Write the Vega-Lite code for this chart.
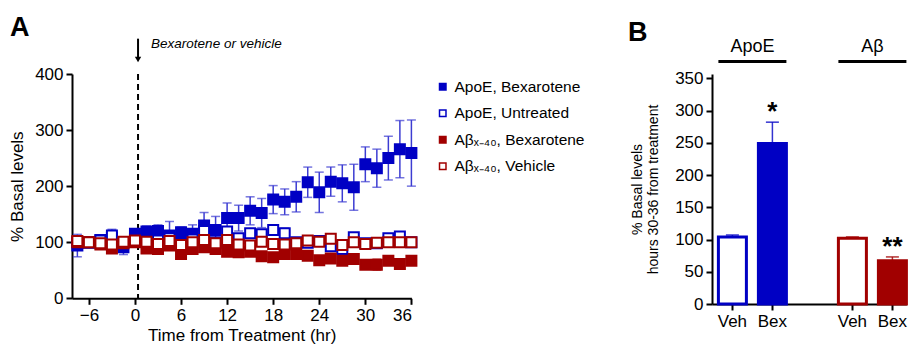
{
  "$schema": "https://vega.github.io/schema/vega-lite/v6.json",
  "background": "white",
  "padding": {"left": 8, "top": 13, "right": 0, "bottom": 0},
  "config": {
    "font": "Liberation Sans",
    "view": {"stroke": null},
    "axis": {"domainColor": "black", "domainWidth": 2, "tickColor": "black", "tickWidth": 2, "tickSize": 6, "labelColor": "black", "labelFontSize": 17, "titleColor": "black", "titleFontWeight": "normal", "grid": false, "labelPadding": 3},
    "title": {"fontSize": 27, "fontWeight": "bold", "color": "black", "anchor": "start", "frame": "group"}
  },
  "resolve": {"scale": {"color": "independent", "fill": "independent", "stroke": "independent"}, "legend": {"color": "independent", "fill": "independent", "stroke": "independent"}},
  "datasets": {
    "ts": [
      {"h": -7.5, "s": "ApoE, Bexarotene", "m": 94, "e": 20}, {"h": -6, "s": "ApoE, Bexarotene", "m": 99, "e": 6}, {"h": -4.5, "s": "ApoE, Bexarotene", "m": 104, "e": 6}, {"h": -3, "s": "ApoE, Bexarotene", "m": 108, "e": 8}, {"h": -1.5, "s": "ApoE, Bexarotene", "m": 91, "e": 13}, {"h": 0, "s": "ApoE, Bexarotene", "m": 115, "e": 8}, {"h": 1.5, "s": "ApoE, Bexarotene", "m": 119, "e": 10}, {"h": 3, "s": "ApoE, Bexarotene", "m": 120, "e": 11}, {"h": 4.5, "s": "ApoE, Bexarotene", "m": 112, "e": 25}, {"h": 6, "s": "ApoE, Bexarotene", "m": 118, "e": 9}, {"h": 7.5, "s": "ApoE, Bexarotene", "m": 115, "e": 16}, {"h": 9, "s": "ApoE, Bexarotene", "m": 130, "e": 23}, {"h": 10.5, "s": "ApoE, Bexarotene", "m": 122, "e": 24}, {"h": 12, "s": "ApoE, Bexarotene", "m": 143, "e": 27}, {"h": 13.5, "s": "ApoE, Bexarotene", "m": 143, "e": 23}, {"h": 15, "s": "ApoE, Bexarotene", "m": 156, "e": 25}, {"h": 16.5, "s": "ApoE, Bexarotene", "m": 152, "e": 26}, {"h": 18, "s": "ApoE, Bexarotene", "m": 176, "e": 25}, {"h": 19.5, "s": "ApoE, Bexarotene", "m": 172, "e": 23}, {"h": 21, "s": "ApoE, Bexarotene", "m": 181, "e": 27}, {"h": 22.5, "s": "ApoE, Bexarotene", "m": 207, "e": 27}, {"h": 24, "s": "ApoE, Bexarotene", "m": 189, "e": 36}, {"h": 25.5, "s": "ApoE, Bexarotene", "m": 208, "e": 26}, {"h": 27, "s": "ApoE, Bexarotene", "m": 205, "e": 33}, {"h": 28.5, "s": "ApoE, Bexarotene", "m": 198, "e": 41}, {"h": 30, "s": "ApoE, Bexarotene", "m": 239, "e": 31}, {"h": 31.5, "s": "ApoE, Bexarotene", "m": 232, "e": 34}, {"h": 33, "s": "ApoE, Bexarotene", "m": 250, "e": 39}, {"h": 34.5, "s": "ApoE, Bexarotene", "m": 266, "e": 51}, {"h": 36, "s": "ApoE, Bexarotene", "m": 259, "e": 59},
      {"h": -7.5, "s": "ApoE, Untreated", "m": 100, "e": 5}, {"h": -6, "s": "ApoE, Untreated", "m": 100, "e": 4}, {"h": -4.5, "s": "ApoE, Untreated", "m": 103, "e": 5}, {"h": -3, "s": "ApoE, Untreated", "m": 112, "e": 11}, {"h": -1.5, "s": "ApoE, Untreated", "m": 100, "e": 5}, {"h": 0, "s": "ApoE, Untreated", "m": 105, "e": 5}, {"h": 1.5, "s": "ApoE, Untreated", "m": 101, "e": 6}, {"h": 3, "s": "ApoE, Untreated", "m": 103, "e": 6}, {"h": 4.5, "s": "ApoE, Untreated", "m": 107, "e": 7}, {"h": 6, "s": "ApoE, Untreated", "m": 98, "e": 6}, {"h": 7.5, "s": "ApoE, Untreated", "m": 105, "e": 6}, {"h": 9, "s": "ApoE, Untreated", "m": 120, "e": 8}, {"h": 10.5, "s": "ApoE, Untreated", "m": 100, "e": 6}, {"h": 12, "s": "ApoE, Untreated", "m": 119, "e": 7}, {"h": 13.5, "s": "ApoE, Untreated", "m": 107, "e": 6}, {"h": 15, "s": "ApoE, Untreated", "m": 116, "e": 7}, {"h": 16.5, "s": "ApoE, Untreated", "m": 114, "e": 8}, {"h": 18, "s": "ApoE, Untreated", "m": 122, "e": 8}, {"h": 19.5, "s": "ApoE, Untreated", "m": 116, "e": 9}, {"h": 21, "s": "ApoE, Untreated", "m": 100, "e": 6}, {"h": 22.5, "s": "ApoE, Untreated", "m": 99, "e": 5}, {"h": 24, "s": "ApoE, Untreated", "m": 102, "e": 5}, {"h": 25.5, "s": "ApoE, Untreated", "m": 93, "e": 6}, {"h": 27, "s": "ApoE, Untreated", "m": 88, "e": 8}, {"h": 28.5, "s": "ApoE, Untreated", "m": 109, "e": 6}, {"h": 30, "s": "ApoE, Untreated", "m": 98, "e": 5}, {"h": 31.5, "s": "ApoE, Untreated", "m": 98, "e": 5}, {"h": 33, "s": "ApoE, Untreated", "m": 107, "e": 5}, {"h": 34.5, "s": "ApoE, Untreated", "m": 110, "e": 5}, {"h": 36, "s": "ApoE, Untreated", "m": 100, "e": 4},
      {"h": -7.5, "s": "Aβₓ₋₄₀, Bexarotene", "m": 100, "e": 6}, {"h": -6, "s": "Aβₓ₋₄₀, Bexarotene", "m": 100, "e": 4}, {"h": -4.5, "s": "Aβₓ₋₄₀, Bexarotene", "m": 96, "e": 5}, {"h": -3, "s": "Aβₓ₋₄₀, Bexarotene", "m": 89, "e": 5}, {"h": -1.5, "s": "Aβₓ₋₄₀, Bexarotene", "m": 98, "e": 5}, {"h": 0, "s": "Aβₓ₋₄₀, Bexarotene", "m": 100, "e": 5}, {"h": 1.5, "s": "Aβₓ₋₄₀, Bexarotene", "m": 89, "e": 5}, {"h": 3, "s": "Aβₓ₋₄₀, Bexarotene", "m": 88, "e": 5}, {"h": 4.5, "s": "Aβₓ₋₄₀, Bexarotene", "m": 94, "e": 5}, {"h": 6, "s": "Aβₓ₋₄₀, Bexarotene", "m": 79, "e": 5}, {"h": 7.5, "s": "Aβₓ₋₄₀, Bexarotene", "m": 88, "e": 5}, {"h": 9, "s": "Aβₓ₋₄₀, Bexarotene", "m": 91, "e": 5}, {"h": 10.5, "s": "Aβₓ₋₄₀, Bexarotene", "m": 88, "e": 5}, {"h": 12, "s": "Aβₓ₋₄₀, Bexarotene", "m": 83, "e": 5}, {"h": 13.5, "s": "Aβₓ₋₄₀, Bexarotene", "m": 82, "e": 5}, {"h": 15, "s": "Aβₓ₋₄₀, Bexarotene", "m": 83, "e": 5}, {"h": 16.5, "s": "Aβₓ₋₄₀, Bexarotene", "m": 75, "e": 5}, {"h": 18, "s": "Aβₓ₋₄₀, Bexarotene", "m": 73, "e": 5}, {"h": 19.5, "s": "Aβₓ₋₄₀, Bexarotene", "m": 79, "e": 5}, {"h": 21, "s": "Aβₓ₋₄₀, Bexarotene", "m": 79, "e": 5}, {"h": 22.5, "s": "Aβₓ₋₄₀, Bexarotene", "m": 76, "e": 5}, {"h": 24, "s": "Aβₓ₋₄₀, Bexarotene", "m": 68, "e": 5}, {"h": 25.5, "s": "Aβₓ₋₄₀, Bexarotene", "m": 71, "e": 5}, {"h": 27, "s": "Aβₓ₋₄₀, Bexarotene", "m": 67, "e": 6}, {"h": 28.5, "s": "Aβₓ₋₄₀, Bexarotene", "m": 70, "e": 5}, {"h": 30, "s": "Aβₓ₋₄₀, Bexarotene", "m": 60, "e": 5}, {"h": 31.5, "s": "Aβₓ₋₄₀, Bexarotene", "m": 60, "e": 10}, {"h": 33, "s": "Aβₓ₋₄₀, Bexarotene", "m": 67, "e": 5}, {"h": 34.5, "s": "Aβₓ₋₄₀, Bexarotene", "m": 61, "e": 5}, {"h": 36, "s": "Aβₓ₋₄₀, Bexarotene", "m": 67, "e": 5},
      {"h": -7.5, "s": "Aβₓ₋₄₀, Vehicle", "m": 102, "e": 5}, {"h": -6, "s": "Aβₓ₋₄₀, Vehicle", "m": 100, "e": 4}, {"h": -4.5, "s": "Aβₓ₋₄₀, Vehicle", "m": 98, "e": 4}, {"h": -3, "s": "Aβₓ₋₄₀, Vehicle", "m": 96, "e": 5}, {"h": -1.5, "s": "Aβₓ₋₄₀, Vehicle", "m": 101, "e": 4}, {"h": 0, "s": "Aβₓ₋₄₀, Vehicle", "m": 103, "e": 5}, {"h": 1.5, "s": "Aβₓ₋₄₀, Vehicle", "m": 101, "e": 5}, {"h": 3, "s": "Aβₓ₋₄₀, Vehicle", "m": 97, "e": 5}, {"h": 4.5, "s": "Aβₓ₋₄₀, Vehicle", "m": 102, "e": 5}, {"h": 6, "s": "Aβₓ₋₄₀, Vehicle", "m": 95, "e": 5}, {"h": 7.5, "s": "Aβₓ₋₄₀, Vehicle", "m": 100, "e": 5}, {"h": 9, "s": "Aβₓ₋₄₀, Vehicle", "m": 104, "e": 5}, {"h": 10.5, "s": "Aβₓ₋₄₀, Vehicle", "m": 98, "e": 5}, {"h": 12, "s": "Aβₓ₋₄₀, Vehicle", "m": 104, "e": 5}, {"h": 13.5, "s": "Aβₓ₋₄₀, Vehicle", "m": 96, "e": 5}, {"h": 15, "s": "Aβₓ₋₄₀, Vehicle", "m": 94, "e": 5}, {"h": 16.5, "s": "Aβₓ₋₄₀, Vehicle", "m": 101, "e": 5}, {"h": 18, "s": "Aβₓ₋₄₀, Vehicle", "m": 97, "e": 5}, {"h": 19.5, "s": "Aβₓ₋₄₀, Vehicle", "m": 96, "e": 5}, {"h": 21, "s": "Aβₓ₋₄₀, Vehicle", "m": 98, "e": 5}, {"h": 22.5, "s": "Aβₓ₋₄₀, Vehicle", "m": 103, "e": 5}, {"h": 24, "s": "Aβₓ₋₄₀, Vehicle", "m": 101, "e": 5}, {"h": 25.5, "s": "Aβₓ₋₄₀, Vehicle", "m": 106, "e": 5}, {"h": 27, "s": "Aβₓ₋₄₀, Vehicle", "m": 95, "e": 5}, {"h": 28.5, "s": "Aβₓ₋₄₀, Vehicle", "m": 100, "e": 5}, {"h": 30, "s": "Aβₓ₋₄₀, Vehicle", "m": 97, "e": 5}, {"h": 31.5, "s": "Aβₓ₋₄₀, Vehicle", "m": 99, "e": 5}, {"h": 33, "s": "Aβₓ₋₄₀, Vehicle", "m": 100, "e": 5}, {"h": 34.5, "s": "Aβₓ₋₄₀, Vehicle", "m": 100, "e": 5}, {"h": 36, "s": "Aβₓ₋₄₀, Vehicle", "m": 100, "e": 5}
    ],
    "bars": [
      {"group": "ApoE", "cond": "ApoE Veh", "mean": 104, "hi": 107, "star": ""},
      {"group": "ApoE", "cond": "ApoE Bex", "mean": 249, "hi": 282, "star": "*"},
      {"group": "Aβ", "cond": "Aβ Veh", "mean": 102, "hi": 104, "star": ""},
      {"group": "Aβ", "cond": "Aβ Bex", "mean": 67, "hi": 73, "star": "**"}
    ],
    "groups": [
      {"group": "ApoE", "first": "ApoE Veh", "last": "ApoE Bex"},
      {"group": "Aβ", "first": "Aβ Veh", "last": "Aβ Bex"}
    ]
  },
  "spacing": 38,
  "hconcat": [
    {
      "width": 339.4,
      "height": 224.3,
      "title": {"text": "A", "dx": -62, "offset": -5},
      "layer": [
        {
          "data": {"values": [{}]},
          "mark": {"type": "rule", "strokeDash": [6, 4], "strokeWidth": 2, "color": "black"},
          "encoding": {
            "x": {"datum": 0.4, "type": "quantitative", "scale": {"domain": [-8.2, 36], "nice": false}, "axis": {"values": [-6, 0, 6, 12, 18, 24, 30, 36], "title": "Time from Treatment (hr)", "titleFontSize": 17, "titlePadding": 4}}
          }
        },
        {
          "data": {"values": [{}]},
          "mark": {"type": "rule", "strokeWidth": 2, "color": "black"},
          "encoding": {
            "x": {"datum": 0.4, "type": "quantitative", "scale": {"domain": [-8.2, 36], "nice": false}, "axis": {"values": [-6, 0, 6, 12, 18, 24, 30, 36], "title": "Time from Treatment (hr)", "titleFontSize": 17, "titlePadding": 4}},
            "y": {"datum": 463, "type": "quantitative", "scale": {"domain": [0, 400], "nice": false}, "axis": {"values": [0, 100, 200, 300, 400], "title": "% Basal levels", "titleFontSize": 17, "titlePadding": 8}},
            "y2": {"datum": 428}
          }
        },
        {
          "data": {"values": [{}]},
          "mark": {"type": "point", "shape": "triangle-down", "filled": true, "color": "black", "size": 40, "opacity": 1},
          "encoding": {
            "x": {"datum": 0.4, "type": "quantitative", "scale": {"domain": [-8.2, 36], "nice": false}, "axis": {"values": [-6, 0, 6, 12, 18, 24, 30, 36], "title": "Time from Treatment (hr)", "titleFontSize": 17, "titlePadding": 4}},
            "y": {"datum": 426, "type": "quantitative", "scale": {"domain": [0, 400], "nice": false}, "axis": {"values": [0, 100, 200, 300, 400], "title": "% Basal levels", "titleFontSize": 17, "titlePadding": 8}}
          }
        },
        {
          "data": {"values": [{}]},
          "mark": {"type": "text", "text": "Bexarotene or vehicle", "fontStyle": "italic", "fontSize": 13.5, "align": "left", "baseline": "middle", "color": "black"},
          "encoding": {
            "x": {"datum": 2.1, "type": "quantitative", "scale": {"domain": [-8.2, 36], "nice": false}, "axis": {"values": [-6, 0, 6, 12, 18, 24, 30, 36], "title": "Time from Treatment (hr)", "titleFontSize": 17, "titlePadding": 4}},
            "y": {"datum": 454, "type": "quantitative", "scale": {"domain": [0, 400], "nice": false}, "axis": {"values": [0, 100, 200, 300, 400], "title": "% Basal levels", "titleFontSize": 17, "titlePadding": 8}}
          }
        },
        {
          "data": {"name": "ts"},
          "transform": [{"filter": "indexof(datum.s, 'ApoE') == 0"}],
          "mark": {"type": "errorbar", "ticks": {"size": 9}, "thickness": 1.5, "color": "#3c3cd2"},
          "encoding": {
            "x": {"field": "h", "type": "quantitative", "scale": {"domain": [-8.2, 36], "nice": false}, "axis": {"values": [-6, 0, 6, 12, 18, 24, 30, 36], "title": "Time from Treatment (hr)", "titleFontSize": 17, "titlePadding": 4}},
            "y": {"field": "m", "type": "quantitative", "scale": {"domain": [0, 400], "nice": false}, "axis": {"values": [0, 100, 200, 300, 400], "title": "% Basal levels", "titleFontSize": 17, "titlePadding": 8}},
            "yError": {"field": "e"},
            "detail": {"field": "s", "type": "nominal"}
          }
        },
        {
          "data": {"name": "ts"},
          "transform": [{"filter": "indexof(datum.s, 'ApoE') != 0"}],
          "mark": {"type": "errorbar", "ticks": {"size": 9}, "thickness": 1.5, "color": "#b42020"},
          "encoding": {
            "x": {"field": "h", "type": "quantitative", "scale": {"domain": [-8.2, 36], "nice": false}, "axis": {"values": [-6, 0, 6, 12, 18, 24, 30, 36], "title": "Time from Treatment (hr)", "titleFontSize": 17, "titlePadding": 4}},
            "y": {"field": "m", "type": "quantitative", "scale": {"domain": [0, 400], "nice": false}, "axis": {"values": [0, 100, 200, 300, 400], "title": "% Basal levels", "titleFontSize": 17, "titlePadding": 8}},
            "yError": {"field": "e"},
            "detail": {"field": "s", "type": "nominal"}
          }
        },
        {
          "data": {"name": "ts"},
          "mark": {"type": "point", "shape": "square", "size": 100, "strokeWidth": 2, "filled": true, "opacity": 1},
          "encoding": {
            "x": {"field": "h", "type": "quantitative", "scale": {"domain": [-8.2, 36], "nice": false}, "axis": {"values": [-6, 0, 6, 12, 18, 24, 30, 36], "title": "Time from Treatment (hr)", "titleFontSize": 17, "titlePadding": 4}},
            "y": {"field": "m", "type": "quantitative", "scale": {"domain": [0, 400], "nice": false}, "axis": {"values": [0, 100, 200, 300, 400], "title": "% Basal levels", "titleFontSize": 17, "titlePadding": 8}},
            "stroke": {"field": "s", "type": "nominal", "scale": {"domain": ["ApoE, Bexarotene", "ApoE, Untreated", "Aβₓ₋₄₀, Bexarotene", "Aβₓ₋₄₀, Vehicle"], "range": ["#0000c4", "#0000c4", "#a10000", "#a10000"]},
              "legend": {"orient": "right", "title": null, "offset": 18, "padding": 5, "labelFontSize": 15.5, "labelColor": "black", "symbolSize": 42, "symbolStrokeWidth": 1.5, "rowPadding": 9.5, "labelOffset": 4, "symbolType": "square", "symbolOpacity": 1}},
            "fill": {"field": "s", "type": "nominal", "scale": {"domain": ["ApoE, Bexarotene", "ApoE, Untreated", "Aβₓ₋₄₀, Bexarotene", "Aβₓ₋₄₀, Vehicle"], "range": ["#0000c4", "#ffffff", "#a10000", "#ffffff"]},
              "legend": {"orient": "right", "title": null, "offset": 18, "padding": 5, "labelFontSize": 15.5, "labelColor": "black", "symbolSize": 42, "symbolStrokeWidth": 1.5, "rowPadding": 9.5, "labelOffset": 4, "symbolType": "square", "symbolOpacity": 1}}
          }
        }
      ]
    },
    {
      "width": 194.4,
      "height": 230,
      "title": {"text": "B", "dx": -84, "offset": -9},
      "data": {"name": "bars"},
      "layer": [
        {
          "mark": {"type": "rule", "strokeWidth": 1.5, "opacity": 0.8},
          "encoding": {
            "x": {"field": "cond", "type": "nominal", "scale": {"domain": ["ApoE Veh", "ApoE Bex", "sp", "Aβ Veh", "Aβ Bex"], "paddingInner": 0.3, "paddingOuter": 0.08, "align": 1},
              "axis": {"values": ["ApoE Veh", "ApoE Bex", "Aβ Veh", "Aβ Bex"], "labelExpr": "split(datum.value, ' ')[1]", "title": null, "labelAngle": 0}},
            "y": {"field": "mean", "type": "quantitative", "scale": {"domain": [0, 356.7], "nice": false},
              "axis": {"values": [0, 50, 100, 150, 200, 250, 300, 350], "title": ["% Basal levels", "hours 30-36 from treatment"], "titleFontSize": 14, "titlePadding": 14}},
            "y2": {"field": "hi"},
            "color": {"field": "cond", "type": "nominal", "scale": {"domain": ["ApoE Veh", "ApoE Bex", "Aβ Veh", "Aβ Bex"], "range": ["#0000c4", "#0000c4", "#a10000", "#a10000"]}, "legend": null}
          }
        },
        {
          "mark": {"type": "tick", "thickness": 1.5, "size": 13, "opacity": 0.8},
          "encoding": {
            "x": {"field": "cond", "type": "nominal", "scale": {"domain": ["ApoE Veh", "ApoE Bex", "sp", "Aβ Veh", "Aβ Bex"], "paddingInner": 0.3, "paddingOuter": 0.08, "align": 1},
              "axis": {"values": ["ApoE Veh", "ApoE Bex", "Aβ Veh", "Aβ Bex"], "labelExpr": "split(datum.value, ' ')[1]", "title": null, "labelAngle": 0}},
            "y": {"field": "hi", "type": "quantitative", "scale": {"domain": [0, 356.7], "nice": false},
              "axis": {"values": [0, 50, 100, 150, 200, 250, 300, 350], "title": ["% Basal levels", "hours 30-36 from treatment"], "titleFontSize": 14, "titlePadding": 14}},
            "color": {"field": "cond", "type": "nominal", "scale": {"domain": ["ApoE Veh", "ApoE Bex", "Aβ Veh", "Aβ Bex"], "range": ["#0000c4", "#0000c4", "#a10000", "#a10000"]}, "legend": null}
          }
        },
        {
          "mark": {"type": "bar", "strokeWidth": 3},
          "encoding": {
            "x": {"field": "cond", "type": "nominal", "scale": {"domain": ["ApoE Veh", "ApoE Bex", "sp", "Aβ Veh", "Aβ Bex"], "paddingInner": 0.3, "paddingOuter": 0.08, "align": 1},
              "axis": {"values": ["ApoE Veh", "ApoE Bex", "Aβ Veh", "Aβ Bex"], "labelExpr": "split(datum.value, ' ')[1]", "title": null, "labelAngle": 0}},
            "y": {"field": "mean", "type": "quantitative", "scale": {"domain": [0, 356.7], "nice": false},
              "axis": {"values": [0, 50, 100, 150, 200, 250, 300, 350], "title": ["% Basal levels", "hours 30-36 from treatment"], "titleFontSize": 14, "titlePadding": 14}},
            "fill": {"field": "cond", "type": "nominal", "scale": {"domain": ["ApoE Veh", "ApoE Bex", "Aβ Veh", "Aβ Bex"], "range": ["#ffffff", "#0000c4", "#ffffff", "#a10000"]}, "legend": null},
            "stroke": {"field": "cond", "type": "nominal", "scale": {"domain": ["ApoE Veh", "ApoE Bex", "Aβ Veh", "Aβ Bex"], "range": ["#0000c4", "#0000c4", "#a10000", "#a10000"]}, "legend": null}
          }
        },
        {
          "mark": {"type": "text", "fontSize": 26, "fontWeight": "bold", "baseline": "alphabetic", "dy": -2, "color": "black"},
          "encoding": {
            "x": {"field": "cond", "type": "nominal", "scale": {"domain": ["ApoE Veh", "ApoE Bex", "sp", "Aβ Veh", "Aβ Bex"], "paddingInner": 0.3, "paddingOuter": 0.08, "align": 1},
              "axis": {"values": ["ApoE Veh", "ApoE Bex", "Aβ Veh", "Aβ Bex"], "labelExpr": "split(datum.value, ' ')[1]", "title": null, "labelAngle": 0}},
            "y": {"field": "hi", "type": "quantitative", "scale": {"domain": [0, 356.7], "nice": false},
              "axis": {"values": [0, 50, 100, 150, 200, 250, 300, 350], "title": ["% Basal levels", "hours 30-36 from treatment"], "titleFontSize": 14, "titlePadding": 14}},
            "text": {"field": "star"}
          }
        },
        {
          "data": {"name": "groups"},
          "mark": {"type": "rule", "strokeWidth": 3, "color": "black"},
          "encoding": {
            "x": {"field": "first", "type": "nominal", "bandPosition": 0, "scale": {"domain": ["ApoE Veh", "ApoE Bex", "sp", "Aβ Veh", "Aβ Bex"], "paddingInner": 0.3, "paddingOuter": 0.08, "align": 1},
              "axis": {"values": ["ApoE Veh", "ApoE Bex", "Aβ Veh", "Aβ Bex"], "labelExpr": "split(datum.value, ' ')[1]", "title": null, "labelAngle": 0}},
            "x2": {"field": "last", "bandPosition": 1},
            "y": {"datum": 376, "type": "quantitative", "scale": {"domain": [0, 356.7], "nice": false},
              "axis": {"values": [0, 50, 100, 150, 200, 250, 300, 350], "title": ["% Basal levels", "hours 30-36 from treatment"], "titleFontSize": 14, "titlePadding": 14}}
          }
        },
        {
          "data": {"name": "groups"},
          "mark": {"type": "text", "fontSize": 18, "dx": 6, "color": "black", "baseline": "middle"},
          "encoding": {
            "x": {"field": "first", "type": "nominal", "bandPosition": 1, "scale": {"domain": ["ApoE Veh", "ApoE Bex", "sp", "Aβ Veh", "Aβ Bex"], "paddingInner": 0.3, "paddingOuter": 0.08, "align": 1},
              "axis": {"values": ["ApoE Veh", "ApoE Bex", "Aβ Veh", "Aβ Bex"], "labelExpr": "split(datum.value, ' ')[1]", "title": null, "labelAngle": 0}},
            "y": {"datum": 398, "type": "quantitative", "scale": {"domain": [0, 356.7], "nice": false},
              "axis": {"values": [0, 50, 100, 150, 200, 250, 300, 350], "title": ["% Basal levels", "hours 30-36 from treatment"], "titleFontSize": 14, "titlePadding": 14}},
            "text": {"field": "group"}
          }
        }
      ]
    }
  ]
}
